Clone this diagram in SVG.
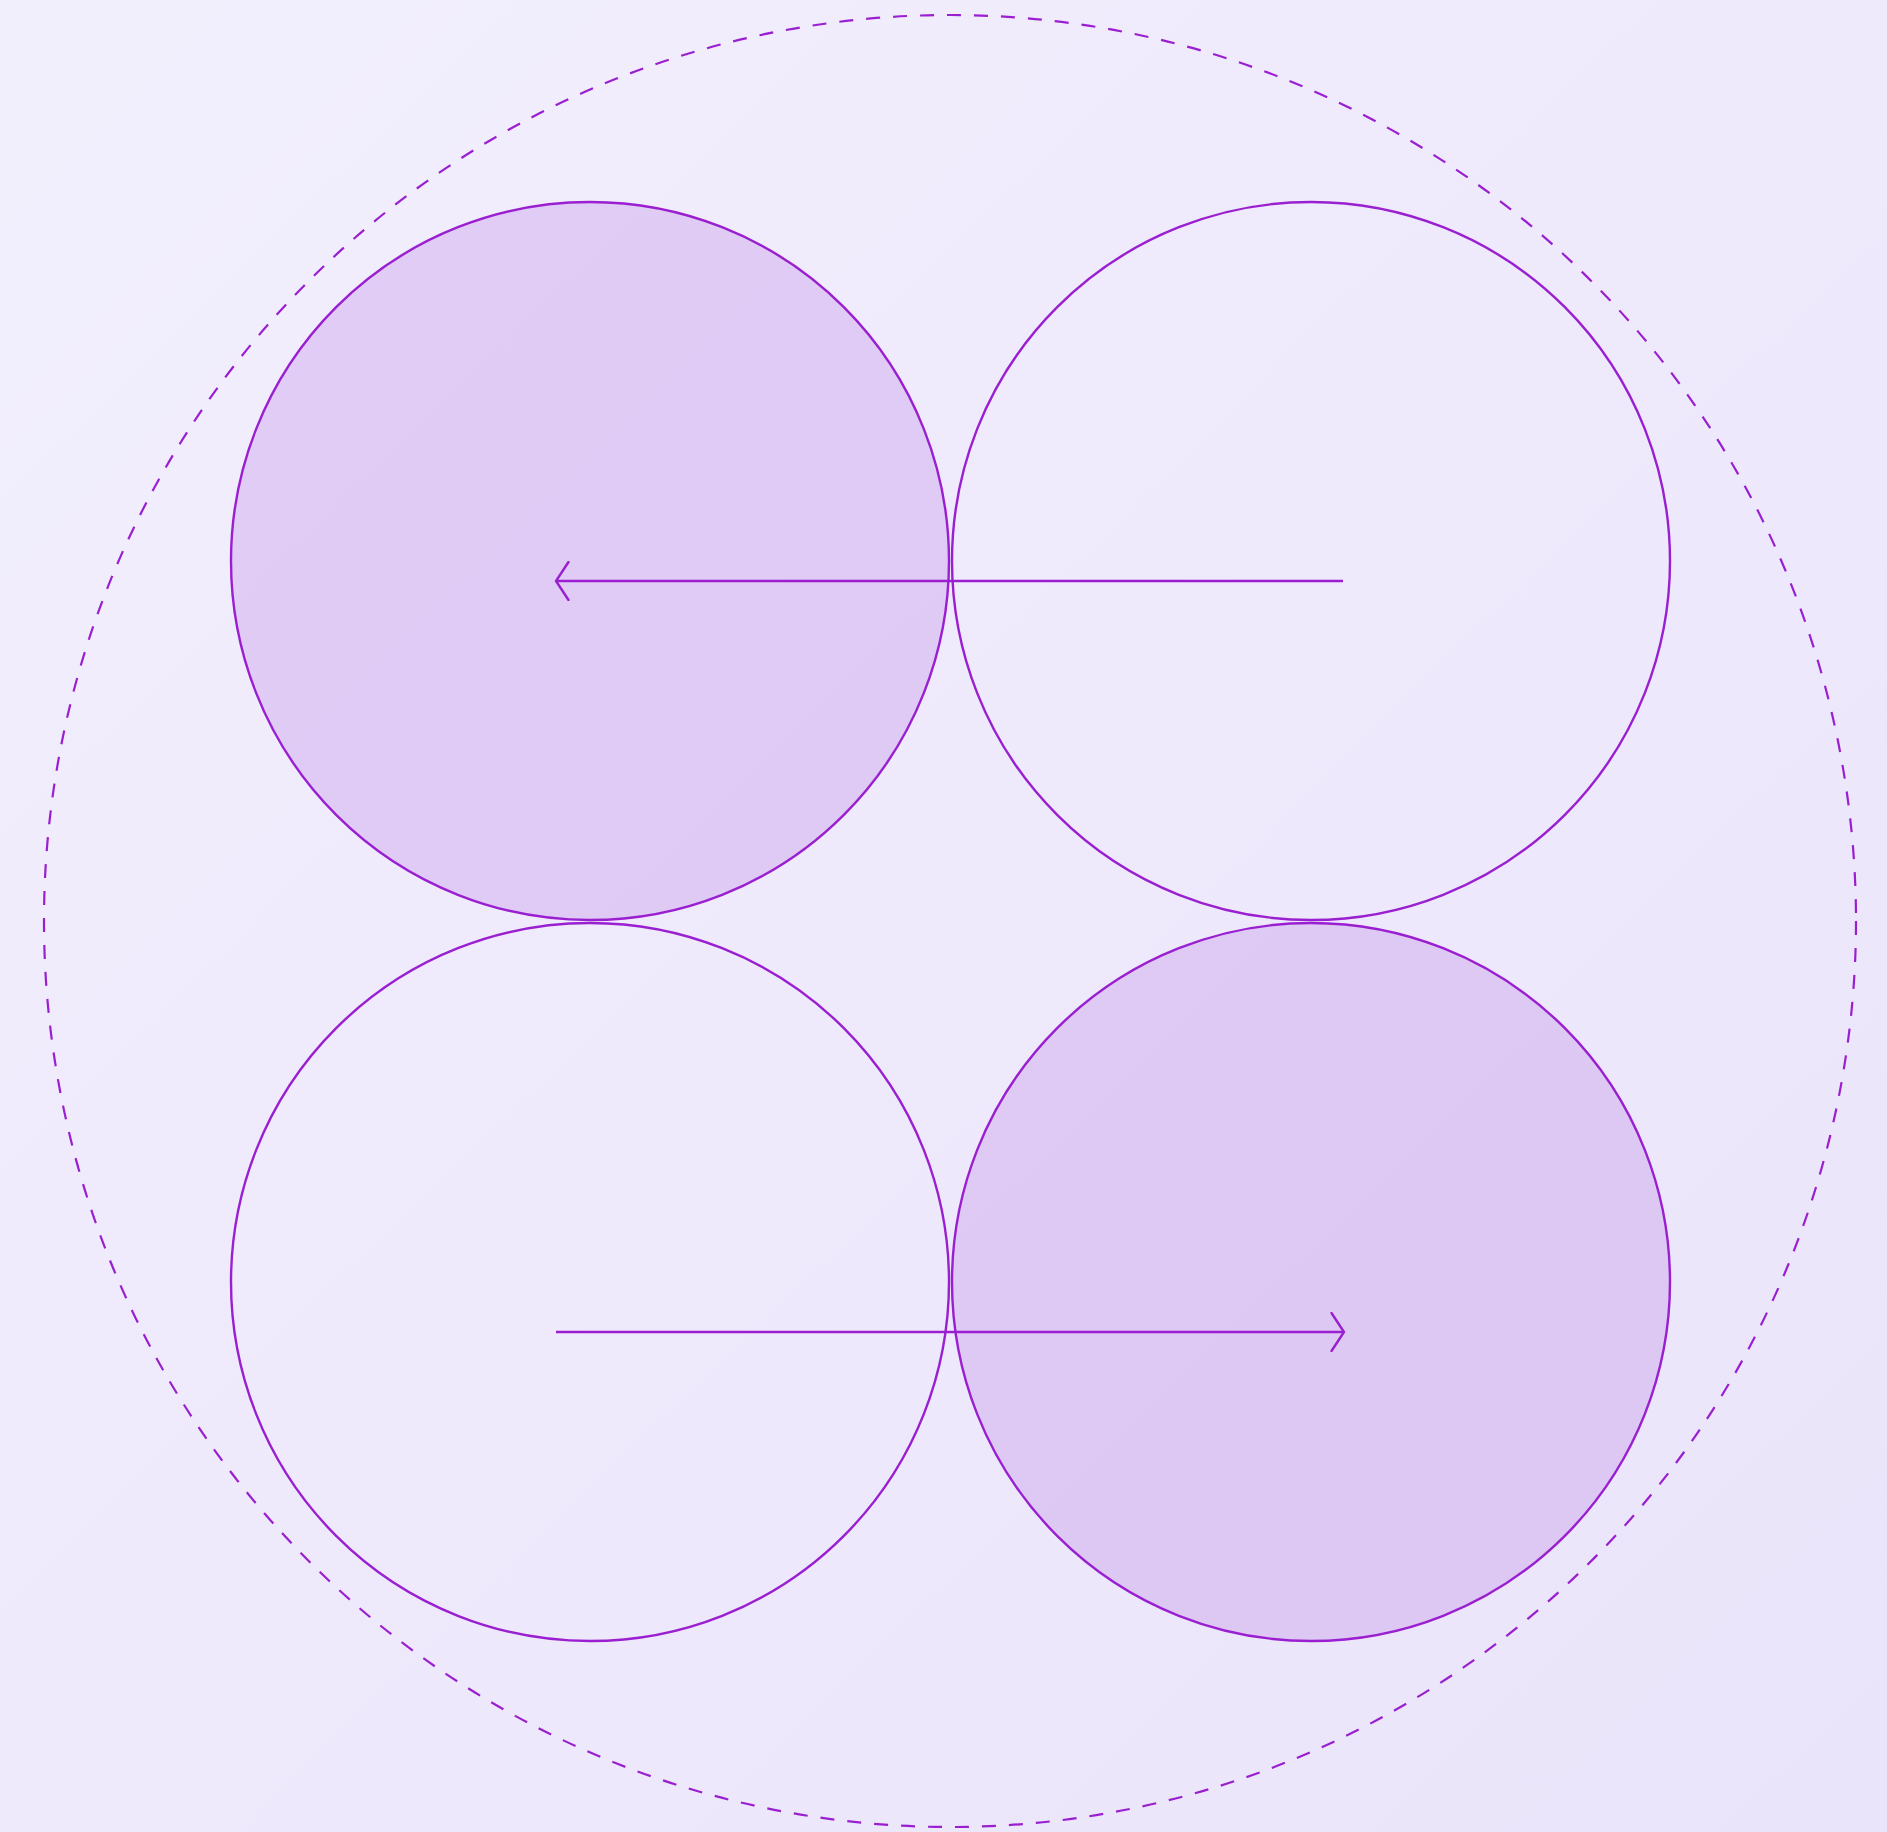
<svg xmlns="http://www.w3.org/2000/svg" width="1887" height="1832" viewBox="0 0 1887 1832">
  <defs>
    <linearGradient id="bg" x1="0" y1="0" x2="1" y2="1">
      <stop offset="0" stop-color="#f2effd"/>
      <stop offset="1" stop-color="#eae4fa"/>
    </linearGradient>
    <marker id="chev" viewBox="-14 -20 16 40" markerWidth="16" markerHeight="40" refX="0" refY="0" orient="auto" markerUnits="userSpaceOnUse">
      <path d="M-12.5,-19 L0,0 L-12.5,19" fill="none" stroke="#9a1fd0" stroke-width="2.4" stroke-linecap="round" stroke-linejoin="miter"/>
    </marker>
    <style>
      .ring { fill: none; stroke: #9a1fd0; stroke-width: 2.4; }
      .filled { fill: #c79bec; fill-opacity: 0.4; }
      .outer { fill: none; stroke: #9a1fd0; stroke-width: 2.2; stroke-dasharray: 14 13; }
      .conn { fill: none; stroke: #9a1fd0; stroke-width: 2.4; marker-end: url(#chev); }
    </style>
  </defs>
  <rect width="1887" height="1832" fill="url(#bg)"/>
  <g id="outer-boundary">
    <circle class="outer" cx="950" cy="921" r="906"/>
  </g>
  <g id="node-top-left">
    <circle class="ring filled" cx="590" cy="561" r="359"/>
  </g>
  <g id="node-top-right">
    <circle class="ring" cx="1311" cy="561" r="359"/>
  </g>
  <g id="node-bottom-left">
    <circle class="ring" cx="590" cy="1282" r="359"/>
  </g>
  <g id="node-bottom-right">
    <circle class="ring filled" cx="1311" cy="1282" r="359"/>
  </g>
  <g id="connectors">
    <line class="conn" x1="1343" y1="581" x2="556" y2="581"/>
    <line class="conn" x1="556" y1="1332" x2="1344" y2="1332"/>
  </g>
</svg>
